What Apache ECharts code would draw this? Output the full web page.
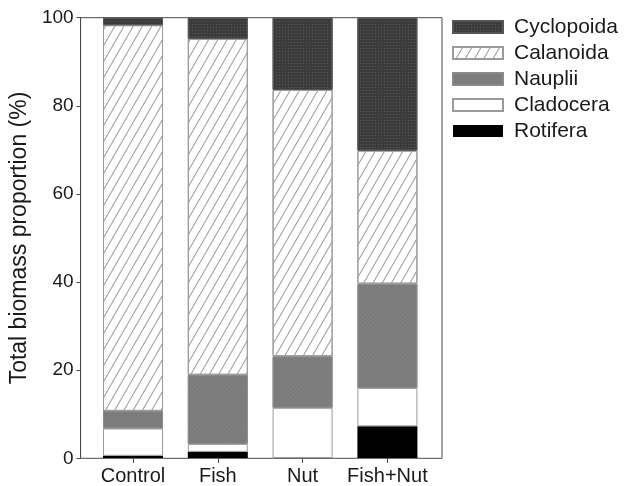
<!DOCTYPE html>
<html>
<head>
<meta charset="utf-8">
<script src="https://cdn.jsdelivr.net/npm/echarts@6/dist/echarts.min.js"></script>
<style>
  html, body { margin: 0; padding: 0; background: #fff; }
  #chart { width: 625px; height: 486px; }
</style>
</head>
<body>
<div id="chart"></div>
<script>
// Treatments on the x axis
const categories = ['Control', 'Fish', 'Nut', 'Fish+Nut'];

// Share of total zooplankton biomass (%) per taxon, stacked bottom to top
const rotifera   = [0.5, 1.4, 0.0, 7.2];
const cladocera  = [6.2, 1.8, 11.4, 8.7];
const nauplii    = [4.0, 15.7, 11.7, 23.7];
const calanoida  = [87.6, 76.3, 60.5, 30.2];
const cyclopoida = [1.7, 4.8, 16.4, 30.2];

const yTicks = [0, 20, 40, 60, 80, 100];
const legendOrder = ['Cyclopoida', 'Calanoida', 'Nauplii', 'Cladocera', 'Rotifera'];

const FONT = 'Liberation Sans, Arial, Helvetica, sans-serif';
const INK = '#1a1a1a';
const FRAME = '#4a4a4a';

const plotTop = 17.7;
const plotHeight = 440.6;

function layer(name, values, itemStyle) {
  return {
    name: name,
    type: 'bar',
    xAxisIndex: 1,
    yAxisIndex: 1,
    stack: 'biomass',
    barWidth: 60,
    data: values,
    itemStyle: itemStyle,
    emphasis: { disabled: true }
  };
}

const chart = echarts.init(document.getElementById('chart'), null, { renderer: 'canvas' });

chart.setOption({
  animation: false,
  backgroundColor: '#fff',
  textStyle: { fontFamily: FONT, color: INK },
  grid: [
    // outer frame carrying the percentage scale
    { left: 80, top: plotTop, width: 362, height: plotHeight,
      show: true, borderColor: FRAME, borderWidth: 1, backgroundColor: 'transparent' },
    // bars, inset so the columns sit away from the frame
    { left: 90.6, top: plotTop, width: 339.2, height: plotHeight }
  ],
  xAxis: [
    { gridIndex: 0, type: 'category', data: categories, show: false },
    { gridIndex: 1, type: 'category', data: categories,
      axisLine: { show: false },
      axisTick: { show: true, alignWithLabel: true, length: 5, lineStyle: { color: FRAME } },
      axisLabel: { interval: 0, fontSize: 20, color: INK, margin: 8, fontFamily: FONT } }
  ],
  yAxis: [
    { gridIndex: 0, type: 'value', min: 0, max: 100, interval: 20,
      data: yTicks,
      name: 'Total biomass proportion (%)',
      nameLocation: 'middle', nameGap: 48,
      nameTextStyle: { fontSize: 23, color: INK, fontFamily: FONT },
      axisLine: { show: true, lineStyle: { color: FRAME } },
      axisTick: { show: true, length: 4, lineStyle: { color: FRAME } },
      axisLabel: { fontSize: 19, color: INK, margin: 7, fontFamily: FONT },
      splitLine: { show: false } },
    { gridIndex: 1, type: 'value', min: 0, max: 100, show: false, splitLine: { show: false } }
  ],
  legend: {
    orient: 'vertical',
    left: 447, top: 11.5,
    icon: 'rect',
    itemWidth: 50, itemHeight: 12, itemGap: 5,
    data: legendOrder,
    selectedMode: false,
    textStyle: { fontSize: 21, color: INK, padding: [0, 0, 0, 6], fontFamily: FONT }
  },
  series: [
    // solid black fill, no outline so an empty share leaves no trace
    layer('Rotifera', rotifera, { color: '#000', borderWidth: 0 }),
    layer('Cladocera', cladocera, { color: '#fff', borderColor: '#9a9a9a', borderWidth: 1 }),
    layer('Nauplii', nauplii, {
      color: '#7b7b7b', borderColor: '#8a8a8a', borderWidth: 1,
      decal: { symbol: 'rect', color: 'rgba(150,150,150,0.55)', dashArrayX: [1, 2], dashArrayY: [1, 2], rotation: Math.PI / 4 }
    }),
    layer('Calanoida', calanoida, {
      color: '#fff', borderColor: '#9a9a9a', borderWidth: 1,
      decal: { symbol: 'rect', color: '#9a9a9a', dashArrayX: [1, 0], dashArrayY: [1, 7], rotation: -Math.PI / 3 }
    }),
    layer('Cyclopoida', cyclopoida, {
      color: '#3b3b3b', borderColor: '#555', borderWidth: 1,
      decal: { symbol: 'rect', color: 'rgba(95,95,95,0.8)', dashArrayX: [1, 2], dashArrayY: [1, 2], rotation: 0 }
    })
  ]
});
</script>
</body>
</html>
